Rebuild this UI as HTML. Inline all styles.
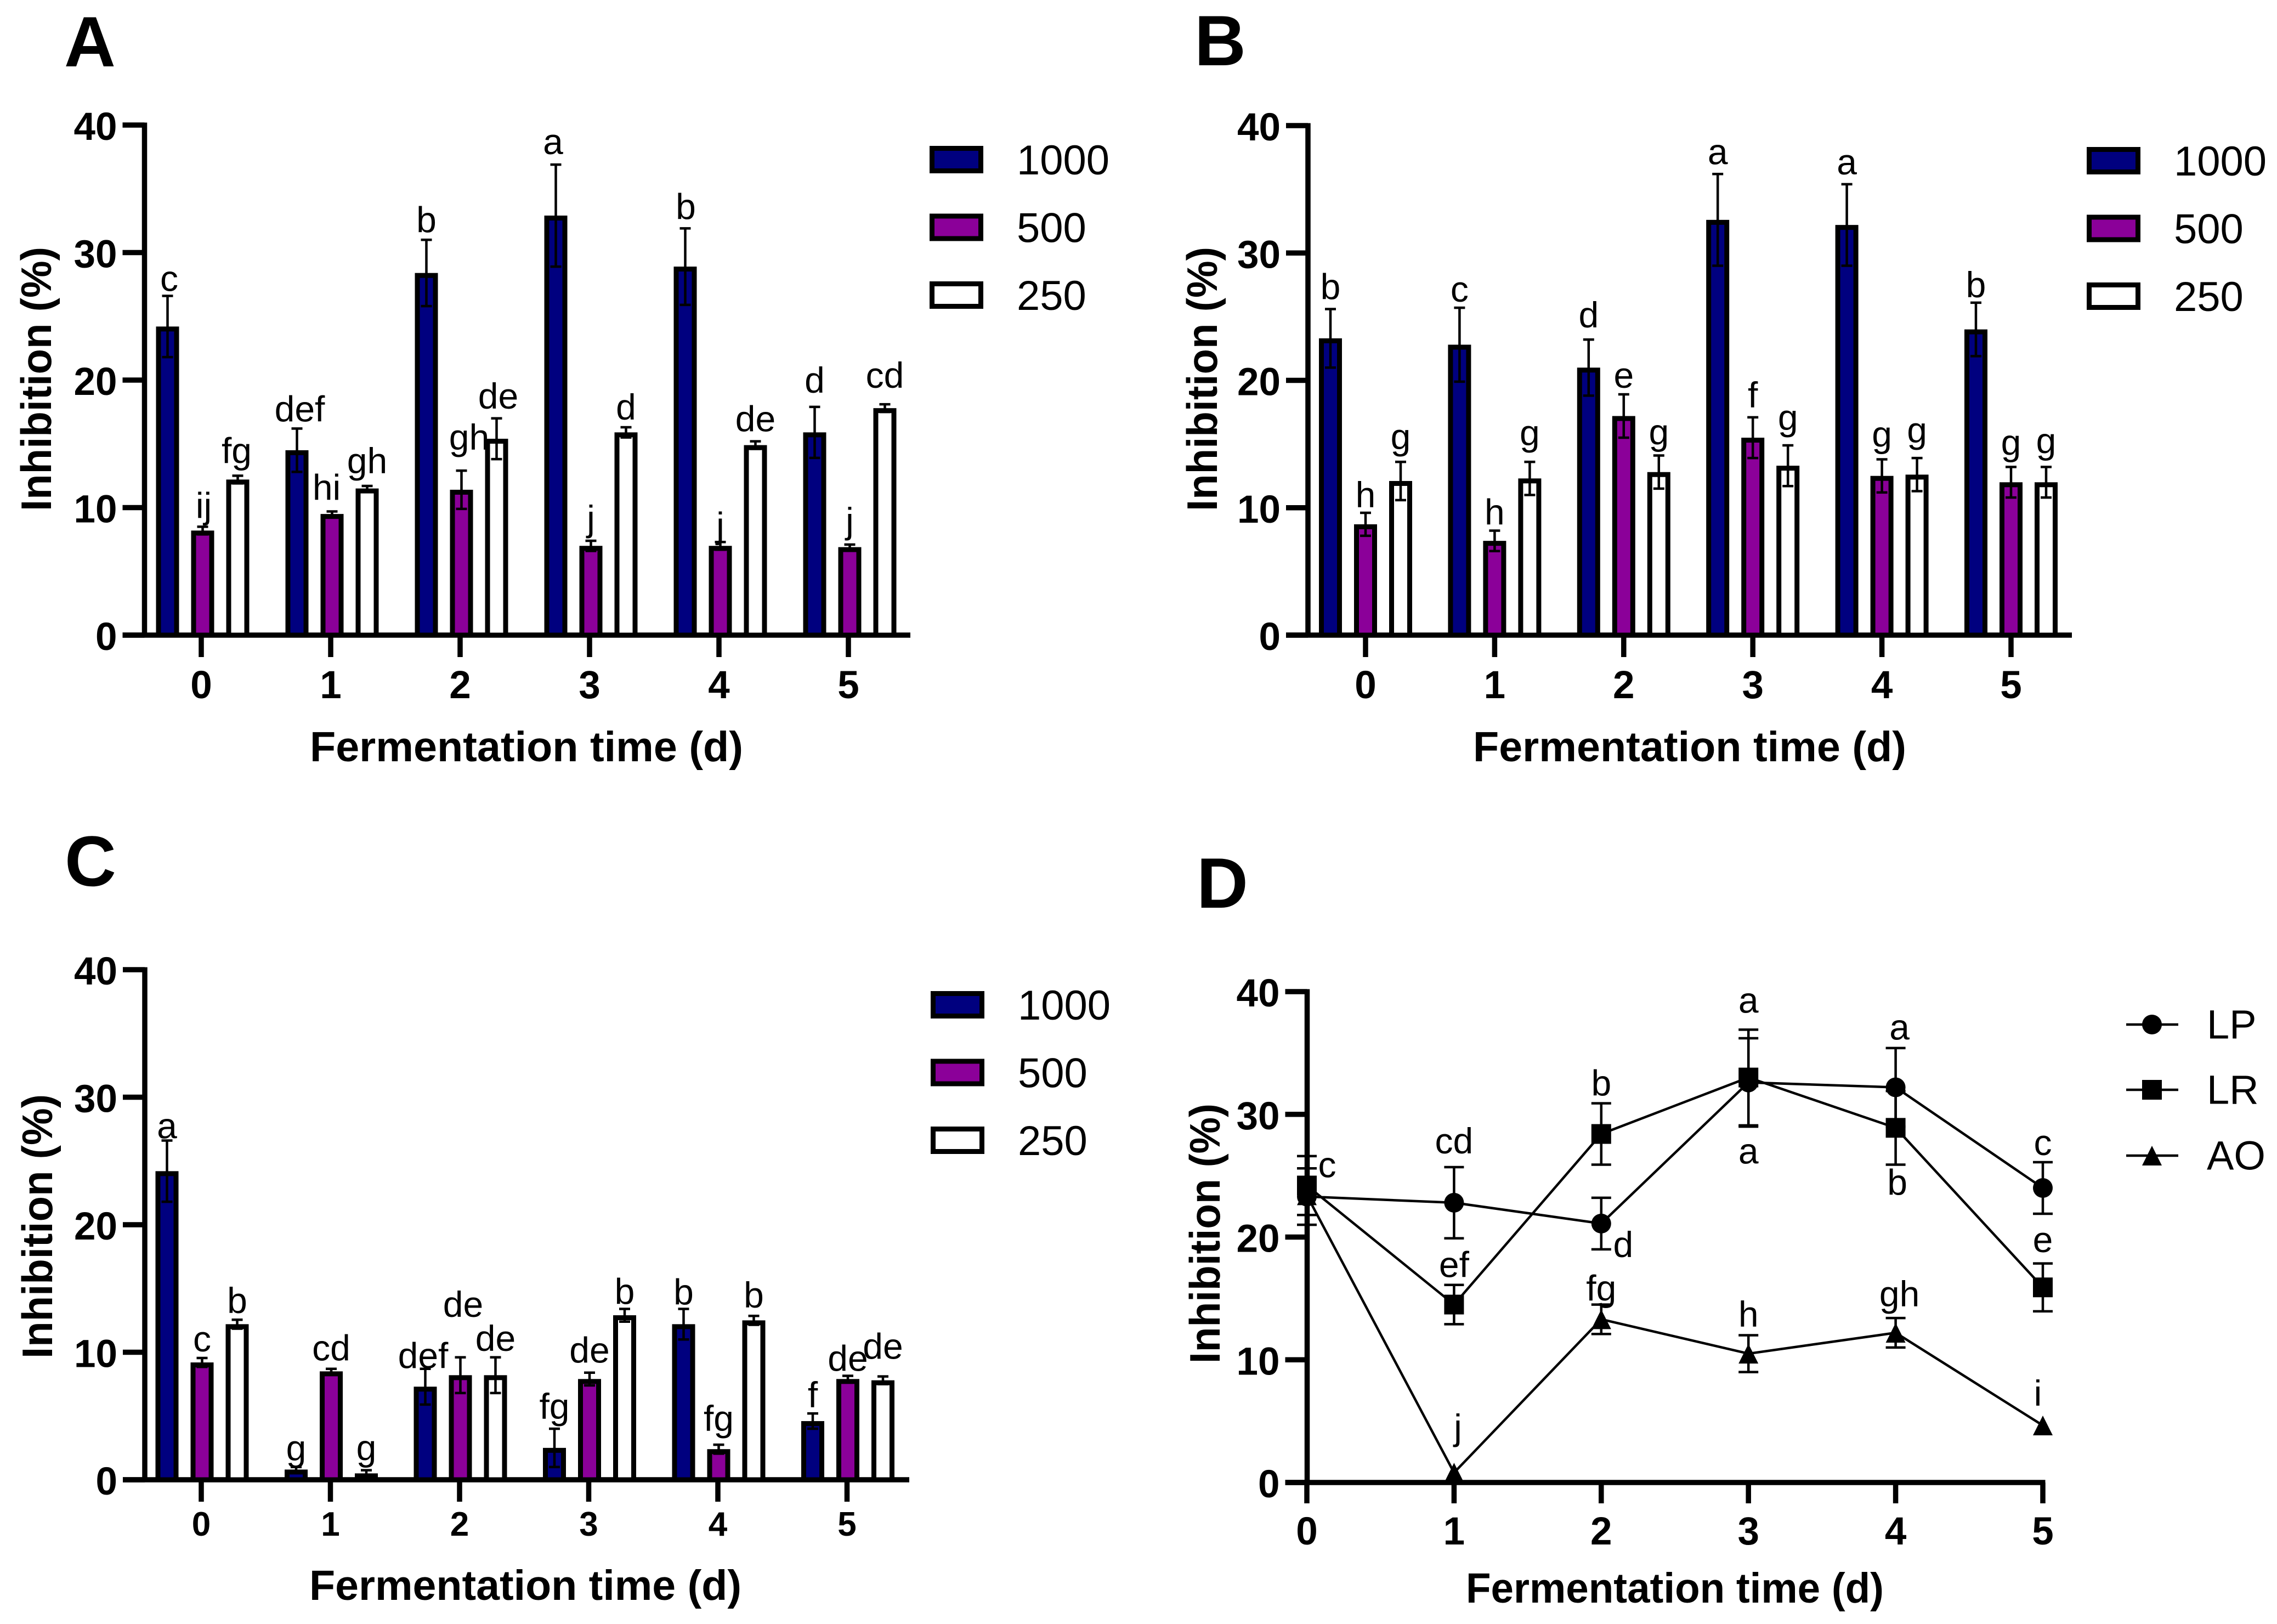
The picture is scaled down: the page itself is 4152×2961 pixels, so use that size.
<!DOCTYPE html>
<html lang="en">
<head>
<meta charset="utf-8">
<title>Inhibition by fermentation time</title>
<style>
html,body{margin:0;padding:0;background:#fff;}
svg{display:block;font-family:"Liberation Sans",Arial,sans-serif;}
</style>
</head>
<body>
<svg id="figure" xmlns="http://www.w3.org/2000/svg" width="4152" height="2961" viewBox="0 0 4152 2961">
<rect x="0" y="0" width="4152" height="2961" fill="#ffffff"/>
</svg>
<script>
// ---------- shared categories and ticks ----------
const days = ['0','1','2','3','4','5'];
const yTicks = [0,10,20,30,40];
const doses = ['1000','500','250'];
const lineNames = ['LP','LR','AO'];

// ---------- panel A ----------
const a1000 = [24.2,14.5,28.4,32.9,28.9,15.9];
const a1000Err = [2.4,1.7,2.6,4.0,3.0,2.0];
const a1000Letters = ['c','def','b','a','b','d'];
const a500 = [8.2,9.5,11.4,7.0,7.0,6.9];
const a500Err = [0.3,0.2,1.5,0.4,0.3,0.2];
const a500Letters = ['ij','hi','gh','j','j','j'];
const a250 = [12.2,11.5,15.4,15.9,14.9,17.8];
const a250Err = [0.3,0.2,1.6,0.4,0.3,0.3];
const a250Letters = ['fg','gh','de','d','de','cd'];

// ---------- panel B ----------
const b1000 = [23.3,22.8,21.0,32.6,32.2,24.0];
const b1000Err = [2.3,2.9,2.2,3.6,3.2,2.1];
const b1000Letters = ['b','c','d','a','a','b'];
const b500 = [8.7,7.4,17.2,15.5,12.5,12.0];
const b500Err = [0.9,0.8,1.7,1.6,1.3,1.2];
const b500Letters = ['h','h','e','f','g','g'];
const b250 = [12.1,12.3,12.8,13.3,12.6,12.0];
const b250Err = [1.5,1.3,1.3,1.6,1.3,1.2];
const b250Letters = ['g','g','g','g','g','g'];

// ---------- panel C ----------
const c1000 = [24.2,0.8,7.3,2.5,12.2,4.6];
const c1000Err = [2.4,0.2,1.4,1.5,1.2,0.6];
const c1000Letters = ['a','g','def','fg','b','f'];
const c500 = [9.2,8.5,8.2,7.9,2.4,7.9];
const c500Err = [0.35,0.2,1.4,0.5,0.35,0.25];
const c500Letters = ['c','cd','de','de','fg','de'];
const c250 = [12.2,0.5,8.2,12.9,12.5,7.8];
const c250Err = [0.35,0.25,1.4,0.5,0.35,0.3];
const c250Letters = ['b','g','de','b','b','de'];

// ---------- panel D ----------
const dLP = [23.3,22.8,21.1,32.6,32.2,24.0];
const dLPErr = [2.3,2.9,2.1,3.6,3.2,2.1];
const dLPLetters = ['c','cd','d','a','a','c'];
const dLR = [24.2,14.5,28.4,33.0,28.9,15.9];
const dLRErr = [2.4,1.6,2.5,3.9,3.0,1.95];
const dLRLetters = ['','ef','b','a','b','e'];
const dAO = [23.4,0.8,13.3,10.5,12.2,4.65];
const dAOErr = [0,0,1.2,1.5,1.2,0];
const dAOLetters = ['','j','fg','h','gh','i'];

const NS = 'http://www.w3.org/2000/svg';
const svg = document.getElementById('figure');
const BLACK = '#000000';

function node(parent, tag, attrs) {
  const n = document.createElementNS(NS, tag);
  for (const k in attrs) n.setAttribute(k, attrs[k]);
  parent.appendChild(n);
  return n;
}
function label(parent, x, y, str, size, weight, anchor) {
  const t = node(parent, 'text', {x:x, y:y, 'font-size':size, 'font-weight':weight, 'text-anchor':anchor, fill:BLACK});
  t.textContent = str;
  return t;
}
function linear(d0, d1, r0, r1) {
  return function (v) { return r0 + (v - d0) * (r1 - r0) / (d1 - d0); };
}

function drawAxes(g, cfg, yScale, xOf) {
  const yAxis = node(g, 'line', {x1:cfg.axisX, x2:cfg.axisX, y1:yScale(40)-4.5, y2:cfg.y0, stroke:BLACK, 'stroke-width':9.5});
  
  
  const xAxis = node(g, 'line', {x1:cfg.axisX-40, x2:cfg.axisEnd, y1:cfg.y0, y2:cfg.y0, stroke:BLACK, 'stroke-width':9.5});
  
  
  yTicks.forEach(function (v) {
    const y = yScale(v);
    const tick = node(g, 'line', {x1:cfg.axisX-40, x2:cfg.axisX, y1:y, y2:y, stroke:BLACK, 'stroke-width':9.5});
    
    
    const tl = label(g, cfg.axisX-50, y+27, String(v), 71, 700, 'end');
    
    
  });
  days.forEach(function (d, i) {
    const x = xOf(i);
    const tick = node(g, 'line', {x1:x, x2:x, y1:cfg.y0, y2:cfg.y0+cfg.xTickLen, stroke:BLACK, 'stroke-width':9.5});
    
    
    const tl = label(g, x, cfg.xLabelY, d, cfg.xLabelSize, 700, 'middle');
    
    
  });
  const xt = label(g, cfg.xTitleX, cfg.xTitleY, 'Fermentation time (d)', 77, 700, 'middle');
  xt.setAttribute('textLength', cfg.xTitleLen);
  xt.setAttribute('lengthAdjust', 'spacingAndGlyphs');
  
  
  const yt = label(g, 0, 0, 'Inhibition (%)', 78, 700, 'middle');
  yt.setAttribute('transform', 'translate(' + cfg.yTitleX + ',' + cfg.yTitleY + ') rotate(-90)');
  yt.setAttribute('textLength', cfg.yTitleLen);
  yt.setAttribute('lengthAdjust', 'spacingAndGlyphs');
  
  
  const letter = label(g, cfg.letterX, cfg.letterY, cfg.letter, 130, 700, 'start');
  
  
}

function errorBar(g, x, y, yTop, yBot, capHalf, name) {
  const e = node(g, 'g', {stroke:BLACK, 'stroke-width':4.5, fill:'none'});
  
  
  node(e, 'line', {x1:x, x2:x, y1:yTop, y2:yBot});
  node(e, 'line', {x1:x-capHalf, x2:x+capHalf, y1:yTop, y2:yTop});
  node(e, 'line', {x1:x-capHalf, x2:x+capHalf, y1:yBot, y2:yBot});
}

function drawBarPanel(cfg) {
  const g = node(svg, 'g', {});
  
  
  const yScale = linear(0, 40, cfg.y0, cfg.y40);
  const xOf = function (i) { return cfg.x0 + i * cfg.step; };
  const fills = ['#00007f', '#8b0099', '#ffffff'];
  drawAxes(g, cfg, yScale, xOf);
  cfg.series.forEach(function (s, si) {
    const sg = node(g, 'g', {});
    
    
    s.values.forEach(function (v, i) {
      const x = xOf(i) + cfg.barShift + (si - 1) * cfg.barGap;
      const y = yScale(v);
      const bar = node(sg, 'rect', {x:x-16.5, y:y+4.5, width:33, height:Math.max(cfg.y0-y-4.5, 0), fill:fills[si], stroke:BLACK, 'stroke-width':9});
      
      
      const top = yScale(v + s.err[i]);
      errorBar(sg, x, y, top, yScale(v - s.err[i]), 10, 'error-bar-' + doses[si] + '-day-' + days[i]);
      const nudge = (cfg.nudges[si + '-' + i]) || [0, 0];
      const t = label(sg, x + nudge[0], top - 18 + nudge[1], s.letters[i], 66, 400, 'middle');
      
      
    });
  });
  const legend = node(g, 'g', {});
  
  
  doses.forEach(function (d, si) {
    const cy = cfg.legendY + si * cfg.legendStep;
    const sw = node(legend, 'rect', {x:cfg.legendX+4.5, y:cy-20.5, width:89, height:41, fill:fills[si], stroke:BLACK, 'stroke-width':9});
    
    
    const lt = label(legend, cfg.legendX+159, cy+27, d, 76, 400, 'start');
    
    
  });
}

function marker(parent, kind, x, y) {
  if (kind === 0) return node(parent, 'circle', {cx:x, cy:y, r:18, fill:BLACK});
  if (kind === 1) return node(parent, 'rect', {x:x-18, y:y-18, width:36, height:36, fill:BLACK});
  return node(parent, 'polygon', {points:[x, y-18, x+18, y+18, x-18, y+18].join(','), fill:BLACK});
}

function drawLinePanel(cfg) {
  const g = node(svg, 'g', {});
  
  
  const yScale = linear(0, 40, cfg.y0, cfg.y40);
  const xOf = function (i) { return cfg.x0 + i * cfg.step; };
  drawAxes(g, cfg, yScale, xOf);
  cfg.series.forEach(function (s, si) {
    const sg = node(g, 'g', {});
    
    
    const pts = s.values.map(function (v, i) { return xOf(i) + ',' + yScale(v); }).join(' ');
    const pl = node(sg, 'polyline', {points:pts, fill:'none', stroke:BLACK, 'stroke-width':4.5});
    
    
    s.values.forEach(function (v, i) {
      const x = xOf(i), y = yScale(v);
      if (s.err[i] > 0) {
        errorBar(sg, x, y, yScale(v + s.err[i]), yScale(v - s.err[i]), 18, 'error-bar-' + lineNames[si] + '-day-' + days[i]);
      }
      const m = marker(sg, si, x, y);
      
      
      if (s.letters[i]) {
        const off = cfg.offsets[si + '-' + i];
        const t = label(sg, x + off[0], y + off[1], s.letters[i], 66, 400, 'middle');
        
        
      }
    });
  });
  const legend = node(g, 'g', {});
  
  
  lineNames.forEach(function (n, si) {
    const cy = cfg.legendYs[si];
    const ll = node(legend, 'line', {x1:3877, x2:3972, y1:cy, y2:cy, stroke:BLACK, 'stroke-width':4.5});
    
    
    const lm = marker(legend, si, 3924, cy);
    
    
    const lt = label(legend, 4024, cy+25.5, n, 74, 400, 'start');
    
    
  });
}

drawBarPanel({
  letter:'A', letterX:117, letterY:121,
  axisX:263.5, axisEnd:1660, y0:1158, y40:228, x0:367, barShift:2.5, step:236, barGap:64, xTickLen:40,
  xLabelY:1273, xLabelSize:71, xTitleX:960, xTitleY:1388, xTitleLen:790,
  yTitleX:93, yTitleY:691, yTitleLen:482,
  legendX:1695, legendY:291, legendStep:123.5,
  series:[
    {values:a1000, err:a1000Err, letters:a1000Letters},
    {values:a500, err:a500Err, letters:a500Letters},
    {values:a250, err:a250Err, letters:a250Letters}
  ],
  nudges:{'0-0':[3,9],'0-1':[5,5],'0-2':[0,4],'0-3':[-5,-1],'0-4':[1,1],'0-5':[0,-8],
          '1-0':[2,2],'1-1':[-10,-3],'1-2':[14,-20],'1-4':[0,10],'1-5':[0,-3],
          '2-0':[-2,-5],'2-1':[0,-5],'2-2':[3,0],'2-3':[0,4],'2-5':[0,-12]}
});

drawBarPanel({
  letter:'B', letterX:2178, letterY:119,
  axisX:2385, axisEnd:3778, y0:1158, y40:229, x0:2490, barShift:0, step:235.4, barGap:64, xTickLen:40,
  xLabelY:1273, xLabelSize:71, xTitleX:3081, xTitleY:1388, xTitleLen:790,
  yTitleX:2219, yTitleY:691, yTitleLen:482,
  legendX:3805, legendY:293, legendStep:123.5,
  series:[
    {values:b1000, err:b1000Err, letters:b1000Letters},
    {values:b500, err:b500Err, letters:b500Letters},
    {values:b250, err:b250Err, letters:b250Letters}
  ],
  nudges:{'0-1':[0,7],'0-2':[0,-4],'0-5':[0,8],
          '1-0':[0,8],'1-1':[0,7],'1-2':[0,6],'1-4':[0,-5],'1-5':[0,-4],
          '2-0':[0,-5],'2-1':[0,-12],'2-2':[0,-2],'2-3':[0,-10],'2-4':[0,-10],'2-5':[0,-7]}
});

drawBarPanel({
  letter:'C', letterX:118, letterY:1615,
  axisX:264, axisEnd:1658, y0:2698, y40:1768, x0:367, barShift:1.5, step:235.5, barGap:64, xTickLen:40,
  xLabelY:2800, xLabelSize:62, xTitleX:958, xTitleY:2917, xTitleLen:788,
  yTitleX:95, yTitleY:2236, yTitleLen:482,
  legendX:1697, legendY:1832, legendStep:123.5,
  series:[
    {values:c1000, err:c1000Err, letters:c1000Letters},
    {values:c500, err:c500Err, letters:c500Letters},
    {values:c250, err:c250Err, letters:c250Letters}
  ],
  nudges:{'0-0':[0,14],'0-1':[0,6],'0-2':[-4,17],'0-4':[0,10],'0-5':[0,7],
          '1-0':[0,6],'1-1':[0,3],'1-2':[5,-56],'1-4':[0,-7],'1-5':[0,9],
          '2-0':[0,6],'2-2':[0,6],'2-3':[0,9],'2-4':[0,3],'2-5':[0,-14]}
});

drawLinePanel({
  letter:'D', letterX:2182, letterY:1655,
  axisX:2383.5, axisEnd:3729.5, y0:2703, y40:1808, x0:2383, step:268.4, xTickLen:38,
  xLabelY:2816, xLabelSize:71, xTitleX:3054, xTitleY:2922, xTitleLen:762,
  yTitleX:2224, yTitleY:2249, yTitleLen:474,
  legendYs:[1868,1987,2107],
  series:[
    {values:dLP, err:dLPErr, letters:dLPLetters},
    {values:dLR, err:dLRErr, letters:dLRLetters},
    {values:dAO, err:dAOErr, letters:dAOLetters}
  ],
  offsets:{'0-0':[37,-35],'0-1':[0,-90],'0-2':[40,61],'0-3':[0,-127],'0-4':[7,-87],'0-5':[0,-60],
           '1-1':[0,-50],'1-2':[0,-70],'1-3':[0,157],'1-4':[3,122],'1-5':[0,-64],
           '2-1':[7,-60],'2-2':[0,-34],'2-3':[0,-49],'2-4':[7,-48],'2-5':[-9,-36]}
});
</script>
</body>
</html>
